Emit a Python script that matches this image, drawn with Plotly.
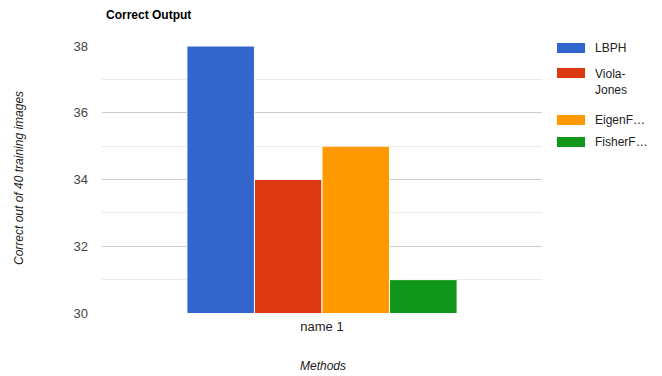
import plotly.graph_objects as go

# Data
categories = ["name 1"]
methods = ["LBPH", "Viola-Jones", "EigenFaces", "FisherFaces"]
legend_labels = ["LBPH", "Viola-<br>Jones", "EigenF\u2026", "FisherF\u2026"]
correct = [38, 34, 35, 31]
colors = ["#3366cc", "#dc3912", "#ff9900", "#109618"]
y_ticks = [30, 32, 34, 36, 38]

W, H = 662, 376
L, R, T, B = 102, 120, 46, 63
plot_w = W - L - R
plot_h = H - T - B
FONT = "Liberation Sans, Arial"


def px_x(px):
    return (px - L) / plot_w


def px_y(py):
    return (H - B - py) / plot_h


fig = go.Figure()
for name, val, col in zip(methods, correct, colors):
    fig.add_trace(go.Bar(
        x=categories, y=[val], name=name,
        marker=dict(color=col, line=dict(color="white", width=1)),
        showlegend=False,
    ))

# Legend drawn as swatches + labels
legend_rows = [48, 73, 120, 142]
for lab, col, cy in zip(legend_labels, colors, legend_rows):
    fig.add_shape(type="rect", xref="paper", yref="paper",
                  x0=px_x(557), x1=px_x(585), y0=px_y(cy + 5), y1=px_y(cy - 5),
                  fillcolor=col, line=dict(width=0))
    multi = "<br>" in lab
    fig.add_annotation(xref="paper", yref="paper", x=px_x(593),
                       y=px_y(cy - 8) if multi else px_y(cy),
                       text=lab, showarrow=False, xanchor="left",
                       yanchor="top" if multi else "middle",
                       align="left",
                       font=dict(family=FONT, size=12, color="#222222"))

# Title
fig.add_annotation(xref="paper", yref="paper", x=px_x(104), y=px_y(15),
                   text="<b>Correct Output</b>", showarrow=False,
                   xanchor="left", yanchor="middle",
                   font=dict(family=FONT, size=12, color="#000000"))

# Axis titles
fig.add_annotation(xref="paper", yref="paper", x=px_x(19), y=px_y(178),
                   text="<i>Correct out of 40 training images</i>", showarrow=False,
                   xanchor="center", yanchor="middle", textangle=-90,
                   font=dict(family=FONT, size=12, color="#222222"))
fig.add_annotation(xref="paper", yref="paper", x=px_x(323), y=px_y(366),
                   text="<i>Methods</i>", showarrow=False,
                   xanchor="center", yanchor="middle",
                   font=dict(family=FONT, size=12, color="#222222"))

fig.update_layout(
    width=W, height=H,
    margin=dict(l=L, r=R, t=T, b=B),
    paper_bgcolor="white", plot_bgcolor="white",
    barmode="group", bargap=0.386, bargroupgap=0.0,
    font=dict(family=FONT, size=13, color="#444444"),
    xaxis=dict(showgrid=False, showline=False, ticks="",
               tickfont=dict(size=13, color="#222222"), ticklabelstandoff=4),
    yaxis=dict(range=[30, 38], tickvals=y_ticks, showgrid=True, gridcolor="#cccccc",
               gridwidth=1, zeroline=False, showline=False, ticks="",
               tickfont=dict(size=13, color="#444444"), ticklabelstandoff=13,
               minor=dict(dtick=1, showgrid=True, gridcolor="#ebebeb", gridwidth=1)),
)

fig.write_html("out.html")
